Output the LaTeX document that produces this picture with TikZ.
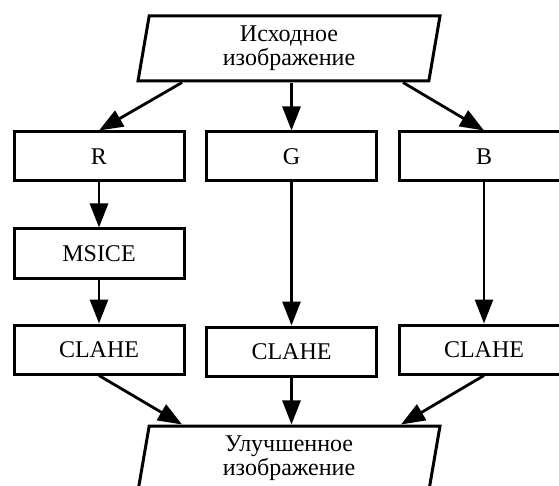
\documentclass[tikz,border=0pt]{standalone}
\usepackage{fontspec}
\setmainfont{Liberation Serif}
\usetikzlibrary{positioning, arrows.meta, shapes.geometric}

\begin{document}
\begin{tikzpicture}[x=1pt, y=-1pt,
    font=\fontsize{24}{24}\selectfont,
    box/.style={draw, line width=3pt, minimum width=170pt,
                minimum height=49pt, inner sep=0pt},
    io/.style={draw, line width=3pt, trapezium, trapezium left angle=76,
               trapezium right angle=104, trapezium stretches body,
               minimum width=302pt, minimum height=65pt, align=center, inner sep=0pt},
    arr/.style={line width=2.8pt, -{Triangle[length=24pt, width=18pt]}}]
  \useasboundingbox (0,0) rectangle (559,486);
  \clip (0,0) rectangle (559,486);

  \node[io] (src) at (289,48.5) {Исходное\\изображение};

  \node[box] (r) at (99,156.5) {R};
  \node[box] (g) at (291.5,156.5) {G};
  \node[box] (b) at (484,156.5) {B};
  \node[box] (msice) at (99,253.5) {MSICE};
  \node[box] (clr) at (99,349.5) {CLAHE};
  \node[box] (clg) at (291.5,351.5) {CLAHE};
  \node[box] (clb) at (484,349.5) {CLAHE};

  \node[io] (dst) at (289,458.5) {Улучшенное\\изображение};

  \draw[arr] ([xshift=-107pt]src.south) -- (r.north);
  \draw[arr] (src.south -| g.north) -- (g.north);
  \draw[arr] ([xshift=114pt]src.south) -- (b.north);
  \draw[arr] (r) -- (msice);
  \draw[arr] (msice) -- (clr);
  \draw[arr] (g) -- (clg);
  \draw[arr] (b) -- (clb);
  \draw[arr] (clr.south) -- ([xshift=-107pt]dst.north);
  \draw[arr] (clg.south) -- (dst.north -| clg.south);
  \draw[arr] (clb.south) -- ([xshift=112pt]dst.north);
\end{tikzpicture}
\end{document}
